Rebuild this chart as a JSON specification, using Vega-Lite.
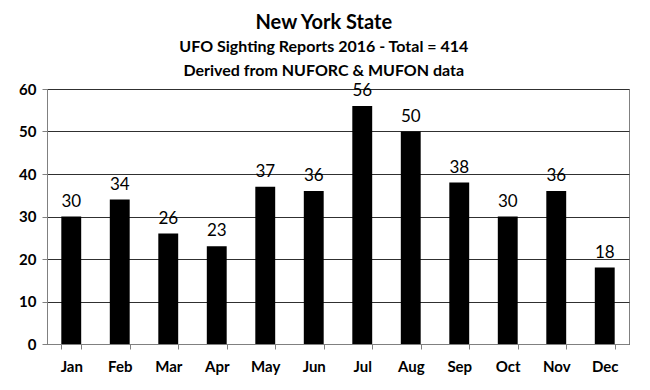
{
  "$schema": "https://vega.github.io/schema/vega-lite/v6.json",
  "width": 582,
  "height": 255,
  "autosize": "none",
  "padding": {"left": 47, "top": 89, "right": 21, "bottom": 46},
  "background": "white",
  "title": {
    "text": "New York State",
    "subtitle": ["UFO Sighting Reports 2016 - Total = 414", "Derived from NUFORC & MUFON data"],
    "font": "Lato",
    "fontSize": 20,
    "fontWeight": "bold",
    "color": "black",
    "subtitleFont": "Lato",
    "subtitleFontSize": 16,
    "subtitleFontWeight": "bold",
    "subtitleColor": "black",
    "subtitleLineHeight": 24,
    "subtitlePadding": 6,
    "anchor": "middle",
    "frame": "bounds",
    "offset": 3
  },
  "data": {
    "values": [
      {"month": "Jan", "count": 30},
      {"month": "Feb", "count": 34},
      {"month": "Mar", "count": 26},
      {"month": "Apr", "count": 23},
      {"month": "May", "count": 37},
      {"month": "Jun", "count": 36},
      {"month": "Jul", "count": 56},
      {"month": "Aug", "count": 50},
      {"month": "Sep", "count": 38},
      {"month": "Oct", "count": 30},
      {"month": "Nov", "count": 36},
      {"month": "Dec", "count": 18}
    ]
  },
  "encoding": {
    "x": {
      "field": "month",
      "type": "nominal",
      "sort": null,
      "scale": {"paddingInner": 0.59, "paddingOuter": 0.295},
      "axis": {
        "title": null,
        "labelAngle": 0,
        "labelFont": "Lato",
        "labelFontSize": 15,
        "labelFontWeight": "bold",
        "labelColor": "black",
        "labelPadding": 10,
        "tickBand": "extent",
        "tickSize": 5,
        "tickColor": "#808080",
        "domainColor": "#808080",
        "grid": false
      }
    },
    "y": {
      "field": "count",
      "type": "quantitative",
      "scale": {"domain": [0, 60]},
      "axis": {
        "title": null,
        "values": [0, 10, 20, 30, 40, 50, 60],
        "labelFont": "Lato",
        "labelFontSize": 15,
        "labelFontWeight": "bold",
        "labelColor": "black",
        "labelPadding": 6,
        "tickSize": 5,
        "tickColor": "#808080",
        "domainColor": "#808080",
        "grid": true,
        "gridColor": "#303030",
        "gridWidth": 1
      }
    }
  },
  "layer": [
    {"mark": {"type": "bar", "color": "black"}},
    {
      "mark": {"type": "text", "baseline": "bottom", "dy": -6, "font": "Lato", "fontSize": 17, "color": "black"},
      "encoding": {"text": {"field": "count", "type": "quantitative"}}
    }
  ],
  "config": {"view": {"stroke": "#808080", "strokeWidth": 1}}
}
